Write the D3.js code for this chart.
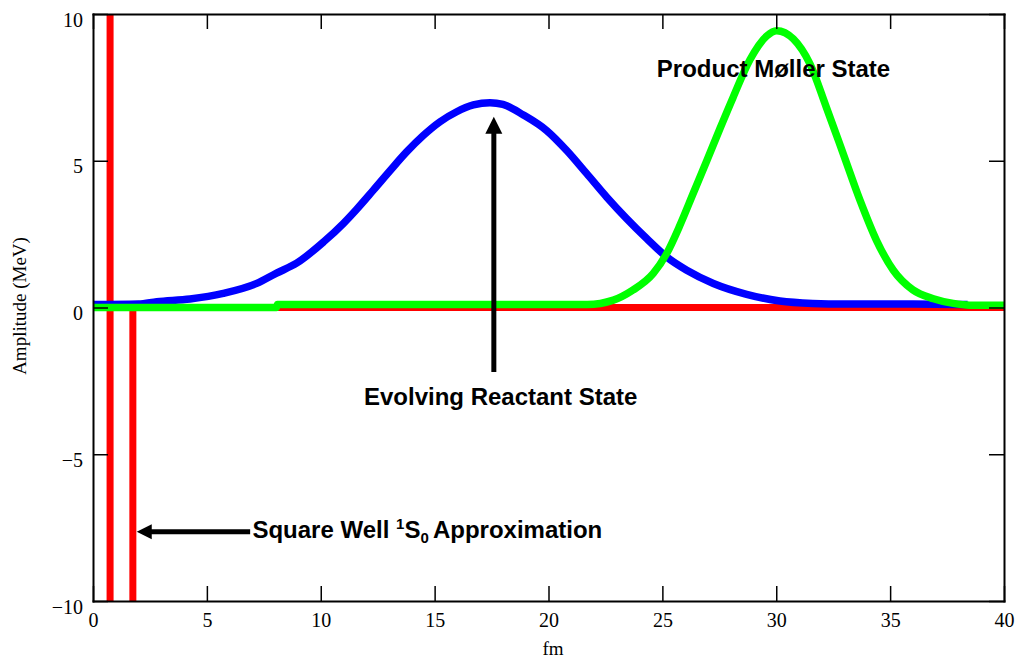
<!DOCTYPE html>
<html>
<head>
<meta charset="utf-8">
<script src="https://cdn.jsdelivr.net/npm/d3@7"></script>
<style>
  body { margin: 0; background: #fff; }
  .axis text { font-family: "Liberation Serif", "Times New Roman", serif; font-size: 20px; fill: #000; }
  .axis path, .axis line { stroke: #000; }
  .note { font-family: "Liberation Sans", Arial, sans-serif; font-weight: bold; font-size: 24px; fill: #000; }
</style>
</head>
<body>
<div id="chart-area"></div>
<script>
// axis ticks
let xTicks = [0, 5, 10, 15, 20, 25, 30, 35, 40];
let yTicks = [-10, -5, 0, 5, 10];

// square well potential (depth runs off the plotted range)
let wellX = [0, 0.75, 0.75, 1.75, 1.75, 40];
let wellV = [12, 12, -12, -12, 0, 0];

// evolving reactant state (blue)
let reactX = [0, 2.0, 2.8, 4.26, 5.72, 7.19, 8.06, 8.94, 10.13, 11.0, 11.58, 12.31, 13.04, 13.77, 14.5, 15.24, 15.97, 16.7, 17.43, 18.0, 18.9, 19.92, 20.8, 21.68, 22.56, 23.43, 24.31, 25.19, 26.07, 27.24, 28.7, 30.16, 31.6, 33.0, 36.0, 38.4];
let reactV = [0.1, 0.12, 0.2, 0.29, 0.48, 0.82, 1.17, 1.51, 2.24, 2.87, 3.35, 4.0, 4.66, 5.3, 5.86, 6.33, 6.67, 6.9, 6.98, 6.92, 6.56, 6.03, 5.35, 4.56, 3.76, 3.03, 2.35, 1.72, 1.27, 0.82, 0.45, 0.22, 0.14, 0.12, 0.12, 0.1];

// product Møller state (green)
let prodX = [0, 8.05, 8.1, 21.7, 22.85, 23.7, 24.6, 25.19, 25.77, 26.36, 26.95, 27.53, 28.1, 28.85, 29.58, 30.02, 30.75, 31.48, 32.2, 32.94, 33.68, 34.4, 35.14, 36.0, 36.9, 37.77, 38.5, 40];
let prodV = [0, 0, 0.1, 0.1, 0.25, 0.59, 1.16, 1.84, 2.8, 3.9, 5.0, 6.1, 7.15, 8.45, 9.25, 9.43, 9.15, 8.3, 6.82, 5.24, 3.65, 2.29, 1.27, 0.6, 0.3, 0.14, 0.08, 0.08];

// annotations, in data units
let reactArrow = {x0: 17.6, y0: -2.2, x1: 17.6, y1: 6.5};
let wellArrow = {x0: 6.9, y0: -7.64, x1: 1.92, y1: -7.64};
let reactLabel = {x: 17.9, y: -3.32, text: "Evolving Reactant State"};
let prodLabel = {x: 29.88, y: 7.84, text: "Product Møller State"};
let wellLabel = {x: 7.0, y: -7.86};

const W = 1021, H = 663;
const svg = d3.select("#chart-area").append("svg").attr("width", W).attr("height", H);

const x = d3.scaleLinear().domain([0, 40]).range([93, 1004]);
const y = d3.scaleLinear().domain([-10, 10]).range([601, 14]);

svg.append("defs").append("clipPath").attr("id", "plot")
  .append("rect").attr("x", 93).attr("y", 14).attr("width", 911).attr("height", 587);

const zip = (xs, vs) => xs.map((d, i) => [d, vs[i]]);
const lines = svg.append("g").attr("clip-path", "url(#plot)");

lines.append("path")
  .attr("d", d3.line().x(d => x(d[0])).y(d => y(d[1]))(zip(wellX, wellV)))
  .attr("fill", "none").attr("stroke", "#ff0000").attr("stroke-width", 7);

let smooth = d3.line().x(d => x(d[0])).y(d => y(d[1])).curve(d3.curveMonotoneX);
lines.append("path")
  .attr("d", smooth(zip(reactX, reactV)))
  .attr("fill", "none").attr("stroke", "#0000ff").attr("stroke-width", 7.5);
lines.append("path")
  .attr("d", smooth(zip(prodX, prodV)))
  .attr("fill", "none").attr("stroke", "#00ff00").attr("stroke-width", 7.5);

// axes, ticks pointing inward on all four sides
let gx = svg.append("g").attr("class", "axis").attr("transform", "translate(0,601)")
  .call(d3.axisBottom(x).tickValues(xTicks).tickSize(-15).tickSizeOuter(0).tickPadding(12));
let gy = svg.append("g").attr("class", "axis").attr("transform", "translate(93,0)")
  .call(d3.axisLeft(y).tickValues(yTicks).tickSize(-15).tickSizeOuter(0).tickPadding(10)
    .tickFormat(d => d < 0 ? "\u2212" + Math.abs(d) : d));
gy.selectAll("text").attr("dy", "0.6em");
svg.append("g").attr("class", "axis").attr("transform", "translate(0,14)")
  .call(d3.axisTop(x).tickValues(xTicks).tickSize(-15).tickSizeOuter(0).tickFormat(""));
svg.append("g").attr("class", "axis").attr("transform", "translate(1004,0)")
  .call(d3.axisRight(y).tickValues(yTicks).tickSize(-15).tickSizeOuter(0).tickFormat(""));
svg.selectAll(".axis path").attr("stroke-width", 2);
svg.selectAll(".axis line").attr("stroke-width", 1.5);
svg.selectAll(".axis .domain").attr("stroke-linecap", "square");

svg.append("text")
  .attr("x", 553).attr("y", 655).attr("text-anchor", "middle")
  .style("font-family", "'Liberation Serif', 'Times New Roman', serif").style("font-size", "19px")
  .text("fm");
svg.append("text")
  .attr("transform", "translate(26,306) rotate(-90)").attr("text-anchor", "middle")
  .style("font-family", "'Liberation Serif', 'Times New Roman', serif").style("font-size", "19px")
  .text("Amplitude (MeV)");

// arrows
function arrow(a, vertical) {
  let x0 = x(a.x0), y0 = y(a.y0), x1 = x(a.x1), y1 = y(a.y1);
  let g = svg.append("g");
  if (vertical) {
    g.append("line").attr("x1", x0).attr("y1", y0).attr("x2", x1).attr("y2", y1 + 15)
      .attr("stroke", "#000").attr("stroke-width", 5);
    g.append("path").attr("d", `M${x1},${y1} L${x1 - 8.5},${y1 + 17} L${x1 + 8.5},${y1 + 17} Z`).attr("fill", "#000");
  } else {
    g.append("line").attr("x1", x0).attr("y1", y0).attr("x2", x1 + 14).attr("y2", y1)
      .attr("stroke", "#000").attr("stroke-width", 5);
    g.append("path").attr("d", `M${x1},${y1} L${x1 + 15},${y1 - 7.5} L${x1 + 15},${y1 + 7.5} Z`).attr("fill", "#000");
  }
}
arrow(reactArrow, true);
arrow(wellArrow, false);

svg.append("text").attr("class", "note")
  .attr("x", x(reactLabel.x)).attr("y", y(reactLabel.y)).attr("text-anchor", "middle")
  .text(reactLabel.text);
svg.append("text").attr("class", "note")
  .attr("x", x(prodLabel.x)).attr("y", y(prodLabel.y)).attr("text-anchor", "middle")
  .text(prodLabel.text);

let wl = svg.append("text").attr("class", "note")
  .attr("x", x(wellLabel.x)).attr("y", y(wellLabel.y));
wl.append("tspan").text("Square Well ");
wl.append("tspan").attr("dy", -9).style("font-size", "15px").text("1");
wl.append("tspan").attr("dy", 9).text("S");
wl.append("tspan").attr("dy", 5).style("font-size", "15px").text("0 ");
wl.append("tspan").attr("dy", -5).text("Approximation");
</script>
</body>
</html>
